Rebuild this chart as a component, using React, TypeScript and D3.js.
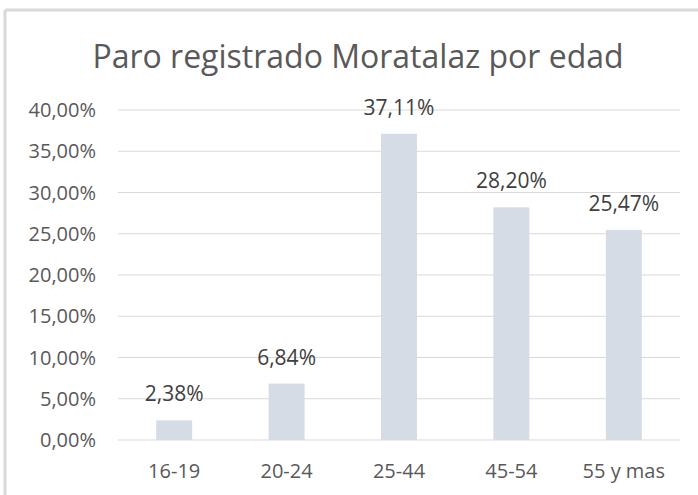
import * as d3 from "d3";
import React from "react";

const categories = ["16-19", "20-24", "25-44", "45-54", "55 y mas"];
const values = [2.38, 6.84, 37.11, 28.2, 25.47];
const yTicks = [0, 5, 10, 15, 20, 25, 30, 35, 40];

const W = 698;
const H = 495;
const margin = {top: 110, right: 18, bottom: 55, left: 118};

const fmt = (v: number) => v.toFixed(2).replace(".", ",") + "%";

const App = () => {
    const x = d3.scaleBand()
        .domain(categories)
        .range([margin.left, W - margin.right])
        .paddingInner(0.68)
        .paddingOuter(0.34);

    const y = d3.scaleLinear()
        .domain([0, 40])
        .range([H - margin.bottom, margin.top]);

    const font = "'Open Sans', sans-serif";

    return (
        <svg width={W} height={H} style={{position: "absolute", left: 0, top: 0, background: "#fff"}}>
            {/* frame (only top and left edges show in the crop) */}
            <line x1={5} x2={W} y1={10} y2={10} stroke="#d9d9d9" strokeWidth={3}/>
            <line x1={5} x2={5} y1={10} y2={H} stroke="#d9d9d9" strokeWidth={3}/>

            <text x={358} y={68} textAnchor="middle" fontFamily={font} fontSize={32}
                  fill="#595959">Paro registrado Moratalaz por edad</text>

            {yTicks.map(t => (
                <g key={t}>
                    <line x1={margin.left} x2={W - margin.right} y1={y(t)} y2={y(t)}
                          stroke="#d9d9d9" strokeWidth={1}/>
                    <text x={96} y={y(t)} dy="0.35em" textAnchor="end" fontFamily={font}
                          fontSize={20} fill="#595959">{fmt(t)}</text>
                </g>
            ))}

            {categories.map((c, i) => (
                <g key={c}>
                    <rect x={x(c)} y={y(values[i])} width={x.bandwidth()}
                          height={y(0) - y(values[i])} fill="#d6dce5"/>
                    <text x={(x(c) || 0) + x.bandwidth() / 2} y={y(values[i]) - 19}
                          textAnchor="middle" fontFamily={font} fontSize={21}
                          fill="#404040">{fmt(values[i])}</text>
                    <text x={(x(c) || 0) + x.bandwidth() / 2} y={478}
                          textAnchor="middle" fontFamily={font} fontSize={20}
                          fill="#595959">{c}</text>
                </g>
            ))}
        </svg>
    );
};

export default App;
